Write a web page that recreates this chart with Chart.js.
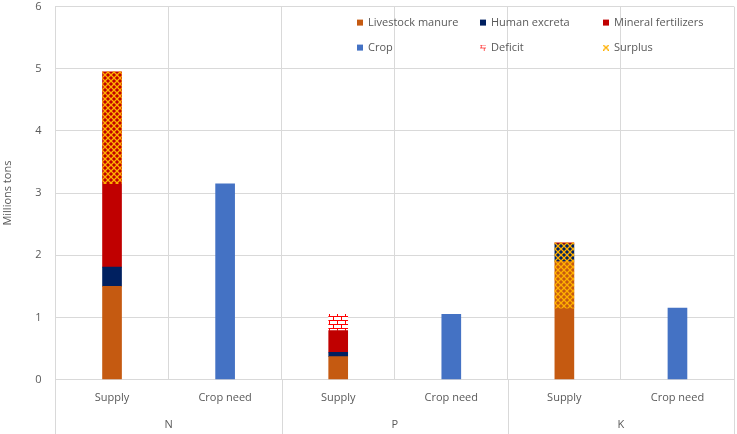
<!DOCTYPE html>
<html lang="en">
<head>
    <meta charset="UTF-8">
    <title>Nutrient supply vs crop need</title>
    <script src="https://cdn.jsdelivr.net/npm/chart.js"></script>
    <style>
        html, body { margin: 0; padding: 0; background: #fff; }
        #wrap { width: 737px; height: 434px; }
    </style>
</head>
<body>
    <div id="wrap"><canvas id="myChart"></canvas></div>
    <script>
        // categories (two levels)
        const categories = ['Supply', 'Crop need', 'Supply', 'Crop need', 'Supply', 'Crop need'];
        const nutrients = ['N', 'P', 'K'];

        // values, millions tons (null = not part of that bar)
        const livestockManure = [1.5, null, 0.37, null, 1.9, null];
        const humanExcreta = [0.31, null, 0.07, null, 0.28, null];
        const mineralFertilizers = [3.14, null, 0.35, null, 0.02, null];
        const cropNeed = [null, 3.15, null, 1.05, null, 1.15];
        const deficit = [null, null, 0.26, null, null, null];
        // surplus is shown over the supply bar, from crop need up to total supply
        const surplusFrom = [3.15, null, null, null, 1.15, null];
        const surplusTo = [4.95, null, null, null, 2.2, null];

        const yTicks = [0, 1, 2, 3, 4, 5, 6];

        const textColor = '#595959';
        const gridColor = '#d9d9d9';
        const fontFamily = '"Open Sans", sans-serif';

        // pattern tiles
        function makeTile(w, h, draw) {
            const c = document.createElement('canvas');
            c.width = w; c.height = h;
            draw(c.getContext('2d'));
            return c;
        }
        const surplusTile = makeTile(6, 6, function (g) {
            g.strokeStyle = '#ffb000';
            g.lineWidth = 1.3;
            g.beginPath();
            g.moveTo(0, 0); g.lineTo(6, 6);
            g.moveTo(6, 0); g.lineTo(0, 6);
            g.stroke();
        });
        const deficitTile = makeTile(8, 8, function (g) {
            g.fillStyle = '#ffffff';
            g.fillRect(0, 0, 8, 8);
            g.fillStyle = '#ff0000';
            g.fillRect(0, 0, 8, 1);
            g.fillRect(0, 4, 8, 1);
            g.fillRect(1, 0, 1, 4);
            g.fillRect(5, 4, 1, 4);
        });
        const pctx = document.createElement('canvas').getContext('2d');
        const surplusPattern = pctx.createPattern(surplusTile, 'repeat');
        const deficitPattern = pctx.createPattern(deficitTile, 'repeat');

        // N / P / K separators below the axis
        const groupLines = {
            id: 'groupLines',
            afterDraw(chart) {
                const a = chart.chartArea;
                const c = chart.ctx;
                c.save();
                c.strokeStyle = gridColor;
                c.lineWidth = 1;
                for (let k = 0; k <= nutrients.length; k++) {
                    const x = Math.round(a.left + k * (a.right - a.left) / nutrients.length) + 0.5;
                    c.beginPath();
                    c.moveTo(x, a.bottom);
                    c.lineTo(x, chart.height);
                    c.stroke();
                }
                c.restore();
            }
        };

        // legend in three columns inside the plot
        const gridLegend = {
            id: 'gridLegend',
            afterDraw(chart) {
                const a = chart.chartArea;
                const c = chart.ctx;
                c.save();
                c.font = '11px ' + fontFamily;
                c.textBaseline = 'middle';
                chart.data.datasets.forEach(function (ds, i) {
                    const col = i % 3, row = Math.floor(i / 3);
                    const x = a.right - 377 + col * 123;
                    const y = a.top + 16 + row * 25;
                    if (ds.legendTile) {
                        c.drawImage(ds.legendTile, x, y - 3, 6, 6);
                    } else {
                        c.fillStyle = ds.backgroundColor;
                        c.fillRect(x, y - 3, 6, 6);
                    }
                    c.fillStyle = textColor;
                    c.fillText(ds.label, x + 11, y);
                });
                c.restore();
            }
        };

        const ctx = document.getElementById('myChart').getContext('2d');
        const myChart = new Chart(ctx, {
            type: 'bar',
            data: {
                labels: categories,
                datasets: [
                    { label: 'Livestock manure', data: livestockManure, backgroundColor: '#c55a11' },
                    { label: 'Human excreta', data: humanExcreta, backgroundColor: '#002060' },
                    { label: 'Mineral fertilizers', data: mineralFertilizers, backgroundColor: '#c00000' },
                    { label: 'Crop', data: cropNeed, backgroundColor: '#4472c4' },
                    { label: 'Deficit', data: deficit, backgroundColor: deficitPattern, legendTile: deficitTile },
                    {
                        label: 'Surplus',
                        data: surplusFrom.map((v, i) => v === null ? null : [v, surplusTo[i]]),
                        backgroundColor: surplusPattern,
                        legendTile: surplusTile,
                        stack: 'surplus',
                        grouped: false,
                        order: -1 // drawn last, over the supply bar
                    }
                ]
            },
            options: {
                responsive: true,
                maintainAspectRatio: false,
                animation: false,
                barThickness: 19,
                layout: { padding: { left: 1, right: 3, top: 0, bottom: 2 } },
                plugins: {
                    legend: { display: false },
                    tooltip: { enabled: false }
                },
                scales: {
                    x: {
                        stacked: true,
                        grid: { color: gridColor, offset: true, drawTicks: false },
                        border: { color: gridColor },
                        ticks: { color: textColor, font: { family: fontFamily, size: 11 }, padding: 12 }
                    },
                    x2: {
                        type: 'category',
                        labels: nutrients,
                        position: 'bottom',
                        grid: { display: false, drawTicks: false },
                        border: { display: false },
                        ticks: { color: textColor, font: { family: fontFamily, size: 11 }, padding: 1 }
                    },
                    y: {
                        stacked: true,
                        min: yTicks[0],
                        max: yTicks[yTicks.length - 1],
                        afterBuildTicks(axis) { axis.ticks = yTicks.map(v => ({ value: v })); },
                        grid: { color: gridColor, drawTicks: true, tickLength: 14, tickColor: 'rgba(0,0,0,0)' },
                        border: { color: gridColor },
                        ticks: { color: textColor, font: { family: fontFamily, size: 11 }, padding: 0 },
                        title: {
                            display: true,
                            text: 'Millions tons',
                            color: textColor,
                            font: { family: fontFamily, size: 11 },
                            padding: { top: 0, bottom: 21 }
                        }
                    }
                }
            },
            plugins: [groupLines, gridLegend]
        });
    </script>
</body>
</html>
